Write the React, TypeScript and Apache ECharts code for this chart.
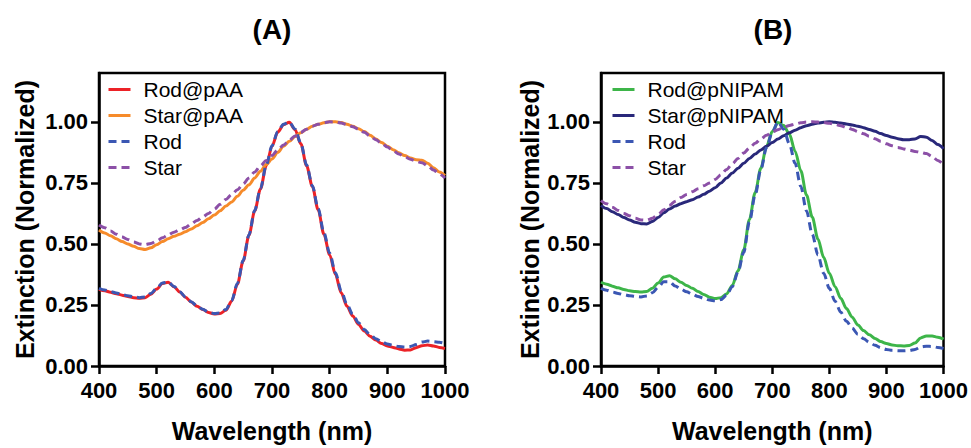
import React, { useEffect, useRef } from 'react';
import * as echarts from 'echarts';

// Wavelength grid (nm)
const wavelength = [
  400, 410, 420, 430, 440, 450, 460, 470, 480, 490,
  500, 510, 520, 530, 540, 550, 560, 570, 580, 590,
  600, 610, 620, 630, 640, 650, 660, 670, 680, 690,
  700, 710, 720, 730, 740, 750, 760, 770, 780, 790,
  800, 810, 820, 830, 840, 850, 860, 870, 880, 890,
  900, 910, 920, 930, 940, 950, 960, 970, 980, 990,
  1000,
];

// Panel A
const rodPAA = [
  0.314, 0.308, 0.302, 0.296, 0.290, 0.285, 0.280, 0.277, 0.280, 0.294,
  0.315, 0.338, 0.343, 0.325, 0.303, 0.282, 0.262, 0.245, 0.231, 0.219,
  0.213, 0.215, 0.228, 0.265, 0.335, 0.430, 0.535, 0.635, 0.725, 0.820,
  0.900, 0.958, 0.988, 0.998, 0.968, 0.910, 0.820, 0.735, 0.640, 0.540,
  0.455, 0.375, 0.300, 0.245, 0.205, 0.170, 0.143, 0.122, 0.106, 0.092,
  0.082, 0.076, 0.070, 0.065, 0.066, 0.075, 0.083, 0.086, 0.082, 0.076,
  0.072,
];
const starPAA = [
  0.557, 0.545, 0.533, 0.521, 0.510, 0.500, 0.490, 0.481, 0.477, 0.484,
  0.497, 0.510, 0.521, 0.531, 0.540, 0.550, 0.561, 0.574, 0.588, 0.603,
  0.618, 0.636, 0.655, 0.672, 0.695, 0.720, 0.742, 0.770, 0.798, 0.825,
  0.848, 0.875, 0.900, 0.920, 0.940, 0.955, 0.970, 0.982, 0.990, 0.996,
  1.000, 1.000, 0.997, 0.990, 0.982, 0.972, 0.960, 0.945, 0.930, 0.915,
  0.900, 0.886, 0.873, 0.862, 0.852, 0.845, 0.843, 0.830, 0.812, 0.795,
  0.780,
];
const rodA = [
  0.318, 0.311, 0.305, 0.299, 0.293, 0.288, 0.283, 0.280, 0.283, 0.297,
  0.318, 0.340, 0.344, 0.326, 0.304, 0.283, 0.263, 0.246, 0.232, 0.220,
  0.215, 0.217, 0.231, 0.268, 0.338, 0.432, 0.537, 0.637, 0.727, 0.822,
  0.902, 0.960, 0.990, 0.999, 0.970, 0.912, 0.823, 0.738, 0.645, 0.546,
  0.462, 0.382, 0.308, 0.252, 0.212, 0.177, 0.150, 0.128, 0.112, 0.099,
  0.090, 0.084, 0.080, 0.078, 0.080, 0.088, 0.098, 0.102, 0.100, 0.097,
  0.092,
];
const starA = [
  0.577, 0.566, 0.553, 0.540, 0.528, 0.518, 0.508, 0.500, 0.497, 0.502,
  0.512, 0.525, 0.537, 0.548, 0.558, 0.567, 0.582, 0.596, 0.610, 0.625,
  0.642, 0.662, 0.682, 0.702, 0.722, 0.745, 0.770, 0.795, 0.820, 0.842,
  0.862, 0.885, 0.905, 0.925, 0.942, 0.957, 0.970, 0.982, 0.990, 0.997,
  1.000, 0.999, 0.995, 0.988, 0.980, 0.970, 0.957, 0.942, 0.927, 0.912,
  0.897, 0.882, 0.868, 0.857, 0.847, 0.838, 0.832, 0.820, 0.803, 0.787,
  0.770,
];

// Panel B
const rodPNIPAM = [
  0.343, 0.335, 0.327, 0.320, 0.313, 0.308, 0.305, 0.303, 0.305, 0.318,
  0.340, 0.364, 0.370, 0.357, 0.343, 0.330, 0.318, 0.305, 0.293, 0.282,
  0.276, 0.280, 0.295, 0.330, 0.390, 0.475, 0.600, 0.710, 0.810, 0.900,
  0.960, 0.997, 0.985, 0.950, 0.880, 0.800, 0.700, 0.610, 0.520, 0.445,
  0.380, 0.325, 0.277, 0.235, 0.200, 0.168, 0.145, 0.128, 0.113, 0.100,
  0.092, 0.086, 0.083, 0.082, 0.084, 0.094, 0.115, 0.123, 0.123, 0.118,
  0.110,
];
const starPNIPAM = [
  0.658, 0.645, 0.632, 0.620, 0.608, 0.598, 0.589, 0.583, 0.582, 0.592,
  0.608, 0.628, 0.643, 0.655, 0.665, 0.673, 0.681, 0.692, 0.703, 0.716,
  0.730, 0.750, 0.770, 0.790, 0.810, 0.830, 0.850, 0.868, 0.885, 0.900,
  0.915, 0.930, 0.943, 0.955, 0.966, 0.976, 0.984, 0.990, 0.995, 0.998,
  1.000, 0.998, 0.995, 0.991, 0.987, 0.982, 0.976, 0.969, 0.961, 0.952,
  0.944, 0.937, 0.931, 0.927, 0.927, 0.930, 0.940, 0.937, 0.924, 0.907,
  0.890,
];
const rodB = [
  0.318, 0.310, 0.303, 0.297, 0.292, 0.288, 0.285, 0.283, 0.287, 0.300,
  0.322, 0.345, 0.345, 0.328, 0.315, 0.304, 0.294, 0.285, 0.277, 0.270,
  0.267, 0.272, 0.290, 0.325, 0.385, 0.465, 0.590, 0.700, 0.805, 0.895,
  0.958, 1.000, 0.970, 0.910, 0.830, 0.735, 0.635, 0.540, 0.455, 0.380,
  0.318, 0.265, 0.220, 0.183, 0.155, 0.130, 0.112, 0.097, 0.085, 0.075,
  0.068, 0.064, 0.062, 0.062, 0.063, 0.068, 0.078, 0.081, 0.080, 0.076,
  0.072,
];
const starB = [
  0.677, 0.664, 0.650, 0.637, 0.625, 0.615, 0.605, 0.598, 0.597, 0.605,
  0.620, 0.640, 0.658, 0.675, 0.690, 0.702, 0.714, 0.726, 0.738, 0.750,
  0.764, 0.783, 0.805, 0.828, 0.850, 0.872, 0.893, 0.912, 0.930, 0.945,
  0.958, 0.968, 0.977, 0.985, 0.991, 0.996, 0.999, 1.000, 0.999, 0.997,
  0.994, 0.990, 0.984, 0.977, 0.969, 0.960, 0.951, 0.941, 0.931, 0.920,
  0.910, 0.902, 0.895, 0.889, 0.884, 0.879, 0.875, 0.870, 0.858, 0.842,
  0.825,
];

const yTicks = [0, 0.25, 0.5, 0.75, 1.0];
const panelTitles = ['(A)', '(B)'];
const legendA = ['Rod@pAA', 'Star@pAA', 'Rod', 'Star'];
const legendB = ['Rod@pNIPAM', 'Star@pNIPAM', 'Rod', 'Star'];

const FONT = '"Liberation Sans", Arial, Helvetica, sans-serif';
const C = {
  red: '#EC2227',
  orange: '#F68B2A',
  blue: '#3B57B3',
  purple: '#8C50A7',
  green: '#3DB549',
  navy: '#29287A',
};

function pairs(vals: number[]) {
  return wavelength.map((w, i) => [w, vals[i]]);
}

function lineSeries(name: string, vals: number[], color: string, dashed: boolean, idx: number) {
  return {
    type: 'line',
    name,
    xAxisIndex: idx,
    yAxisIndex: idx,
    data: pairs(vals),
    symbol: 'none',
    showSymbol: false,
    smooth: 0.3,
    smoothMonotone: 'x',
    color,
    lineStyle: { color, width: 3, type: dashed ? [8, 5] : 'solid' },
    itemStyle: { color },
  };
}

function xAxis(idx: number) {
  return {
    type: 'value',
    gridIndex: idx,
    min: 400,
    max: 1000,
    interval: 100,
    axisLine: { show: true, lineStyle: { color: '#000', width: 2.5 } },
    axisTick: { show: true, length: 8, lineStyle: { color: '#000', width: 2.5 } },
    axisLabel: {
      color: '#000',
      fontSize: 22,
      fontWeight: 'bold',
      fontFamily: FONT,
      margin: 13,
      formatter: (v: number) => String(v),
    },
    splitLine: { show: false },
    name: 'Wavelength (nm)',
    nameLocation: 'middle',
    nameGap: 52,
    nameTextStyle: { color: '#000', fontSize: 25, fontWeight: 'bold', fontFamily: FONT },
  };
}

function yAxis(idx: number, gap: number) {
  return {
    type: 'value',
    gridIndex: idx,
    min: 0,
    max: 1.2,
    interval: 0.25,
    axisLine: { show: true, lineStyle: { color: '#000', width: 2.5 } },
    axisTick: { show: true, length: 8, customValues: yTicks, lineStyle: { color: '#000', width: 2.5 } },
    axisLabel: {
      color: '#000',
      fontSize: 22,
      fontWeight: 'bold',
      fontFamily: FONT,
      margin: 11,
      customValues: yTicks,
      formatter: (v: number) => v.toFixed(2),
    },
    splitLine: { show: false },
    name: 'Extinction (Normalized)',
    nameLocation: 'middle',
    nameGap: gap,
    nameTextStyle: { color: '#000', fontSize: 25, fontWeight: 'bold', fontFamily: FONT },
  };
}

function legend(data: string[], left: number) {
  return {
    orient: 'vertical',
    left,
    top: 79,
    padding: 0,
    itemWidth: 22,
    itemHeight: 14,
    itemGap: 5,
    selectedMode: false,
    data,
    itemStyle: { opacity: 0 },
    lineStyle: { width: 3 },
    textStyle: { color: '#000', fontSize: 21, fontFamily: FONT, padding: [0, 0, 0, 8] },
  };
}

export default function App() {
  const ref = useRef<HTMLDivElement>(null);
  useEffect(() => {
    document.body.style.margin = '0';
    if (!ref.current) return;
    const chart = echarts.init(ref.current, undefined, { renderer: 'svg' });
    const grid = { show: true, borderColor: '#000', borderWidth: 2.5, backgroundColor: 'transparent' };
    chart.setOption({
      animation: false,
      backgroundColor: '#fff',
      grid: [
        { ...grid, left: 99, top: 73, width: 346, height: 301 },
        { ...grid, left: 601, top: 73, width: 344, height: 300 },
      ],
      xAxis: [xAxis(0), xAxis(1)],
      yAxis: [yAxis(0, 62), yAxis(1, 59)],
      legend: [legend(legendA, 107), legend(legendB, 611)],
      graphic: [
        {
          type: 'text',
          x: 272,
          y: 29,
          style: { text: panelTitles[0], fontSize: 28, fontWeight: 'bold', fontFamily: FONT, fill: '#000', align: 'center', verticalAlign: 'middle' },
        },
        {
          type: 'text',
          x: 773,
          y: 29,
          style: { text: panelTitles[1], fontSize: 28, fontWeight: 'bold', fontFamily: FONT, fill: '#000', align: 'center', verticalAlign: 'middle' },
        },
      ],
      series: [
        lineSeries('Rod@pAA', rodPAA, C.red, false, 0),
        lineSeries('Star@pAA', starPAA, C.orange, false, 0),
        lineSeries('Rod', rodA, C.blue, true, 0),
        lineSeries('Star', starA, C.purple, true, 0),
        lineSeries('Rod@pNIPAM', rodPNIPAM, C.green, false, 1),
        lineSeries('Star@pNIPAM', starPNIPAM, C.navy, false, 1),
        lineSeries('Rod', rodB, C.blue, true, 1),
        lineSeries('Star', starB, C.purple, true, 1),
      ],
    });
    return () => chart.dispose();
  }, []);
  return <div ref={ref} style={{ width: 971, height: 448, position: 'absolute', left: 0, top: 0 }} />;
}
